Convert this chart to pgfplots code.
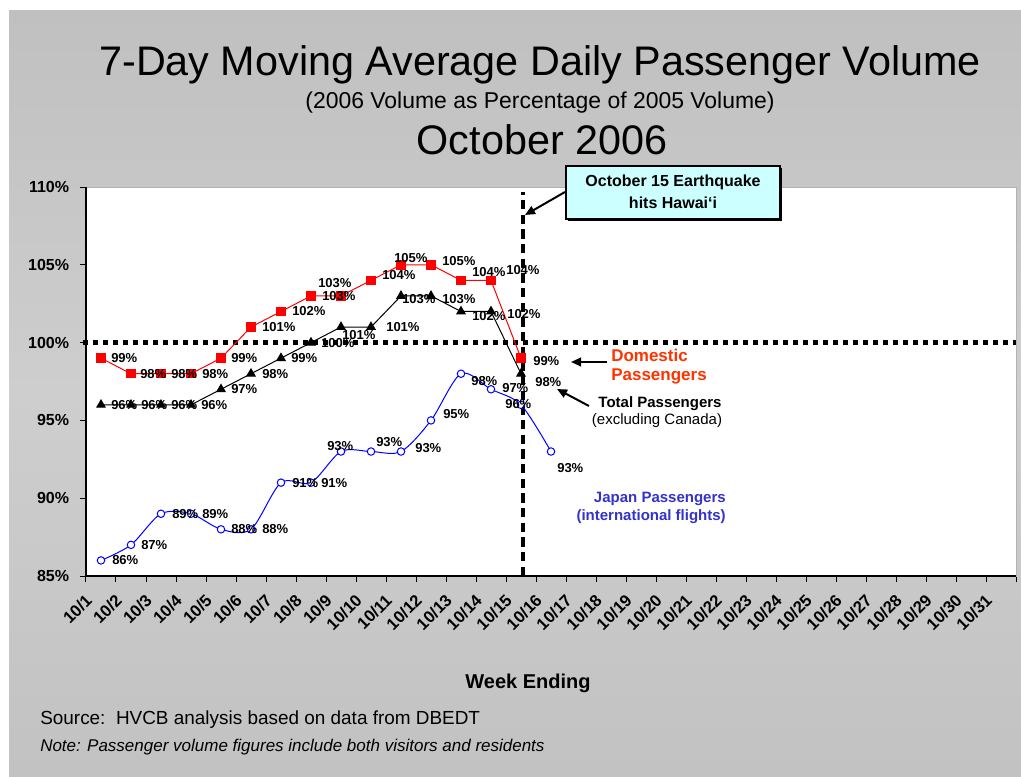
\documentclass[border=0pt]{standalone}
\usepackage{pgfplots}
\pgfplotsset{compat=1.18}
\usepackage{fontspec}
\setmainfont{Liberation Sans}
\usetikzlibrary{arrows.meta}
\definecolor{dom}{HTML}{FF0000}
\definecolor{domtxt}{HTML}{FF3300}
\definecolor{jap}{HTML}{0000FF}
\definecolor{japtxt}{HTML}{3333CC}
\definecolor{bgtop}{HTML}{C0C0C0}
\definecolor{bgmid}{HTML}{CECECE}
\definecolor{bgbot}{HTML}{C2C2C2}
\definecolor{callout}{HTML}{CCFFFF}
\newcommand{\fs}[1]{\fontsize{#1pt}{#1pt}\selectfont}
\newcommand{\lab}[5]{\node[anchor=west, inner sep=0pt, font=\bfseries\fs{9.75}, xshift={(#3)*0.75pt}, yshift={-(#4)*0.75pt}] at (axis cs:#1,#2) {#5\%};}
\pgfplotsset{geom/.style={
  at={(64.5pt,-432pt)}, anchor=south west,
  scale only axis, width=697.5pt, height=291.75pt,
  xmin=0.5, xmax=31.5, ymin=85, ymax=110, clip=false}}
\begin{document}
\begin{tikzpicture}
\begin{scope}[x=0.75pt,y=-0.75pt]
\useasboundingbox (0,0) rectangle (1021,777);
\fill[white] (0,0) rectangle (1021,777);
\shade[top color=bgtop, bottom color=bgbot, middle color=bgmid] (9,11) rectangle (1021,776);
\node[font=\fs{31}, anchor=base, inner sep=0pt] at (540,76) {7-Day Moving Average Daily Passenger Volume};
\node[font=\fs{17.2}, anchor=base, inner sep=0pt] at (540,109) {(2006 Volume as Percentage of 2005 Volume)};
\node[font=\fs{31}, anchor=base, inner sep=0pt] at (542,155) {October 2006};
\node[font=\bfseries\fs{15}, anchor=base, inner sep=0pt] at (528,688) {Week Ending};
\node[font=\fs{14.2}, anchor=base west, inner sep=0pt] at (40,724) {Source:\ \ HVCB analysis based on data from DBEDT};
\node[font=\itshape\fs{12.75}, anchor=base west, inner sep=0pt] at (40,751) {Note: Passenger volume figures include both visitors and residents};
\end{scope}

\begin{axis}[
  geom,
  axis background/.style={fill=white},
  axis line style={draw=gray!60, line width=0.5pt},
  tick pos=left,
  tick align=outside,
  major tick length=4.5pt,
  tick style={black, line width=0.75pt},
  ytick={85,90,95,100,105,110},
  yticklabels={85\%,90\%,95\%,100\%,105\%,110\%},
  yticklabel style={font=\bfseries\fs{12}, inner sep=0pt, xshift=-8pt},
  xtick={0.5,1.5,...,31.5},
  xticklabels={},
  extra x ticks={1,2,...,31},
  extra x tick labels={10/1,10/2,10/3,10/4,10/5,10/6,10/7,10/8,10/9,10/10,10/11,10/12,10/13,10/14,10/15,10/16,10/17,10/18,10/19,10/20,10/21,10/22,10/23,10/24,10/25,10/26,10/27,10/28,10/29,10/30,10/31},
  extra x tick style={major tick length=0pt, xticklabel style={xshift=-9pt, yshift=-16pt, rotate=45, anchor=east, font=\bfseries\fs{12.5}, inner sep=0pt}},
]
% reference lines
\addplot[black, line width=3.5pt, dash pattern=on 3.75pt off 3.75pt, forget plot] coordinates {(0.4,100) (31.5,100)};
\addplot[black, line width=3pt, dash pattern=on 7pt off 4pt, forget plot] coordinates {(15.07,85) (15.07,109.68)};
% Japan
\addplot[color=jap, line width=0.75pt, smooth, mark=*, mark size=2.8pt, mark options={fill=white, draw=jap, line width=0.75pt}] coordinates {
(1,86) (2,87) (3,89) (4,89) (5,88) (6,88) (7,91) (8,91) (9,93) (10,93) (11,93) (12,95) (13,98) (14,97) (15,96) (16,93)};
% Domestic
\addplot[color=dom, line width=0.75pt, mark=square*, mark size=3.2pt, mark options={fill=dom, draw=dom}] coordinates {
(1,99) (2,98) (3,98) (4,98) (5,99) (6,101) (7,102) (8,103) (9,103) (10,104) (11,105) (12,105) (13,104) (14,104) (15,99)};
% Total
\addplot[color=black, line width=0.75pt, mark=triangle*, mark size=3.6pt, mark options={fill=black, draw=black}] coordinates {
(1,96) (2,96) (3,96) (4,96) (5,97) (6,98) (7,99) (8,100) (9,101) (10,101) (11,103) (12,103) (13,102) (14,102) (15,98)};
% left and bottom axis lines
\draw[black, line width=2pt] (rel axis cs:0,1) -- (rel axis cs:0,0) -- (rel axis cs:1,0);
\end{axis}

% data labels on top of the marks
\begin{axis}[geom, hide axis]
% labels: domestic
\lab{1}{99}{10}{0}{99}
\lab{2}{98}{9}{0}{98}
\lab{3}{98}{10}{0}{98}
\lab{4}{98}{11}{0}{98}
\lab{5}{99}{10}{0}{99}
\lab{6}{101}{11}{0}{101}
\lab{7}{102}{11}{0}{102}
\lab{8}{103}{7}{-13}{103}
\lab{9}{103}{-19}{0}{103}
\lab{10}{104}{11}{-5}{104}
\lab{11}{105}{-7}{-7}{105}
\lab{12}{105}{11}{-4}{105}
\lab{13}{104}{11}{-8}{104}
\lab{14}{104}{15}{-10}{104}
\lab{15}{99}{12}{3}{99}
% labels: total
\lab{1}{96}{10}{0}{96}
\lab{2}{96}{10}{0}{96}
\lab{3}{96}{10}{0}{96}
\lab{4}{96}{10}{0}{96}
\lab{5}{97}{10}{0}{97}
\lab{6}{98}{11}{0}{98}
\lab{7}{99}{10}{0}{99}
\lab{8}{100}{10}{0}{100}
\lab{9}{101}{1}{8}{101}
\lab{10}{101}{15}{0}{101}
\lab{11}{103}{1}{3}{103}
\lab{12}{103}{11}{3}{103}
\lab{13}{102}{11}{5}{102}
\lab{14}{102}{16}{3}{102}
\lab{15}{98}{14}{8}{98}
% labels: japan
\lab{1}{86}{11}{0}{86}
\lab{2}{87}{10}{0}{87}
\lab{3}{89}{11}{0}{89}
\lab{4}{89}{11}{0}{89}
\lab{5}{88}{10}{0}{88}
\lab{6}{88}{11}{0}{88}
\lab{7}{91}{11}{0}{91}
\lab{8}{91}{10}{0}{91}
\lab{9}{93}{-14}{-5}{93}
\lab{10}{93}{5}{-9}{93}
\lab{11}{93}{14}{-3}{93}
\lab{12}{95}{12}{-6}{95}
\lab{13}{98}{10}{7}{98}
\lab{14}{97}{11}{-1}{97}
\lab{15}{96}{-16}{-1}{96}
\lab{16}{93}{6}{17}{93}
\end{axis}

\begin{scope}[x=0.75pt,y=-0.75pt]
% callout
\fill[black] (568,168) rectangle (782,221);
\draw[fill=callout, draw=black, line width=1pt] (566,166) rectangle (780,219);
\node[font=\bfseries\fs{12}, anchor=base, inner sep=0pt] at (673,187) {October 15 Earthquake};
\node[font=\bfseries\fs{12}, anchor=base, inner sep=0pt] at (673,209) {hits Hawai‘i};
\draw[line width=1.5pt, -{Triangle[length=7.5pt,width=6.5pt]}] (565,192) -- (525,215);
% series annotations
\node[font=\bfseries\fs{12.75}, text=domtxt, anchor=base west, inner sep=0pt] at (611,361) {Domestic};
\node[font=\bfseries\fs{12.75}, text=domtxt, anchor=base west, inner sep=0pt] at (611,380) {Passengers};
\draw[line width=1.5pt, -{Triangle[length=7.5pt,width=6.5pt]}] (607,362) -- (571,362);
\node[font=\bfseries\fs{11.25}, anchor=base, inner sep=0pt] at (660,407) {Total Passengers};
\node[font=\fs{11.25}, anchor=base, inner sep=0pt] at (657,424) {(excluding Canada)};
\draw[line width=1.5pt, -{Triangle[length=7.5pt,width=6.5pt]}] (589,406) -- (557,389);
\node[font=\bfseries\fs{11.25}, text=japtxt, anchor=base east, inner sep=0pt] at (726,502) {Japan Passengers};
\node[font=\bfseries\fs{11.25}, text=japtxt, anchor=base east, inner sep=0pt] at (726,520) {(international flights)};
\end{scope}
\end{tikzpicture}
\end{document}
